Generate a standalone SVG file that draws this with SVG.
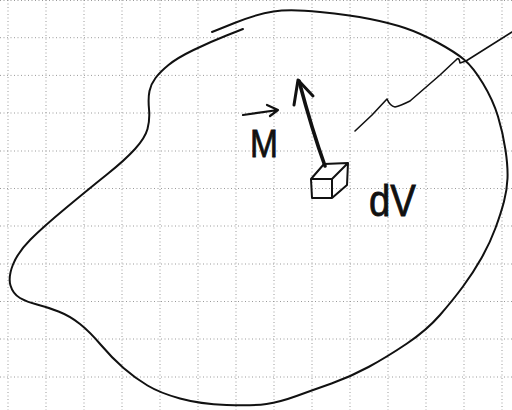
<svg xmlns="http://www.w3.org/2000/svg" width="512" height="410" viewBox="0 0 512 410">
<style>
.grid line{stroke:#9a9a9a;stroke-width:1;stroke-dasharray:1 2.5}
.ink{fill:none;stroke:#111;stroke-linecap:round;stroke-linejoin:round}
.lbl{font-family:"Liberation Sans","DejaVu Sans",sans-serif;fill:#111;stroke:#111;stroke-width:0.8}
</style>
<rect width="512" height="410" fill="#fff"/>
<g class="grid">
<line x1="8" y1="0" x2="8" y2="410"/><line x1="46" y1="0" x2="46" y2="410"/><line x1="84" y1="0" x2="84" y2="410"/><line x1="122" y1="0" x2="122" y2="410"/><line x1="160" y1="0" x2="160" y2="410"/><line x1="198" y1="0" x2="198" y2="410"/><line x1="236" y1="0" x2="236" y2="410"/><line x1="274" y1="0" x2="274" y2="410"/><line x1="312" y1="0" x2="312" y2="410"/><line x1="350" y1="0" x2="350" y2="410"/><line x1="388" y1="0" x2="388" y2="410"/><line x1="426" y1="0" x2="426" y2="410"/><line x1="464" y1="0" x2="464" y2="410"/><line x1="502" y1="0" x2="502" y2="410"/>
<line x1="0" y1="0.5" x2="512" y2="0.5"/><line x1="0" y1="37.7" x2="512" y2="37.7"/><line x1="0" y1="75.4" x2="512" y2="75.4"/><line x1="0" y1="113" x2="512" y2="113"/><line x1="0" y1="151" x2="512" y2="151"/><line x1="0" y1="188.5" x2="512" y2="188.5"/><line x1="0" y1="226" x2="512" y2="226"/><line x1="0" y1="264" x2="512" y2="264"/><line x1="0" y1="301.5" x2="512" y2="301.5"/><line x1="0" y1="339" x2="512" y2="339"/><line x1="0" y1="377" x2="512" y2="377"/>
</g>
<g id="body">
<path class="ink" stroke-width="2" d="M243,29 L226.5,35.5 Q210,42 193.5,50 Q177,58 168.5,65 Q160,72 155.5,78 Q151,84 149.5,91 Q148,98 149,109 Q150,120 147.5,129 Q145,138 135,149 Q125,160 107.5,174 Q90,188 66.5,207.5 Q43,227 30.5,239.5 Q18,252 13,264.5 Q8,277 10.5,285.5 Q13,294 20,298 Q27,302 37,304.5 Q47,307 58.5,311.5 Q70,316 80,324 Q90,332 101,345 Q112,358 123.5,368 Q135,378 147.5,385.5 Q160,393 180,398.5 Q200,404 226.5,405 Q253,406 266.5,404 Q280,402 296.5,396 Q313,390 331.5,383.5 Q350,377 368.5,367 Q387,357 407,343.5 Q427,330 440,315 Q453,300 463,286.5 Q473,273 481.5,258 Q490,243 495.5,228 Q501,213 504,201.5 Q507,190 507.5,178.5 Q508,167 505.5,150 Q503,133 498,116.5 Q493,100 483,83.5 Q473,67 464,59.5 Q455,52 437.5,42.5 Q420,33 405,28 Q390,23 370,19 Q350,15 320,12 Q290,9 273.5,11.5 Q257,14 234.5,23 L212,32"/>
</g>
<g id="pointer">
<path class="ink" stroke-width="1.6" d="M355,131 L372,115 L387,99 Q390,106 395,107 Q400,106 410,101 L440,75 L456,60 Q459,56 460,63 L466,61 L512,32"/>
</g>
<g id="element">
<path class="ink" stroke-width="2" d="M311,179 L332,179 L332,198 L312,198 Z M311,179 L324,164 L348,163 L332,179 M348,163 L347,185 L332,198"/>
</g>
<g id="moment">
<path class="ink" stroke-width="3.6" d="M325,166 Q312,130 299,81"/>
<path class="ink" stroke-width="3" d="M294,105 L298,80 L313,96"/>
<text class="lbl" x="250" y="157" font-size="39" textLength="28" lengthAdjust="spacingAndGlyphs">M</text>
<path class="ink" stroke-width="2.2" d="M243,115 L278,110 M267,105 L278,110 L270,116"/>
</g>
<g id="dV-label">
<text class="lbl" x="369" y="216" font-size="44" textLength="47" lengthAdjust="spacingAndGlyphs">dV</text>
</g>
</svg>
